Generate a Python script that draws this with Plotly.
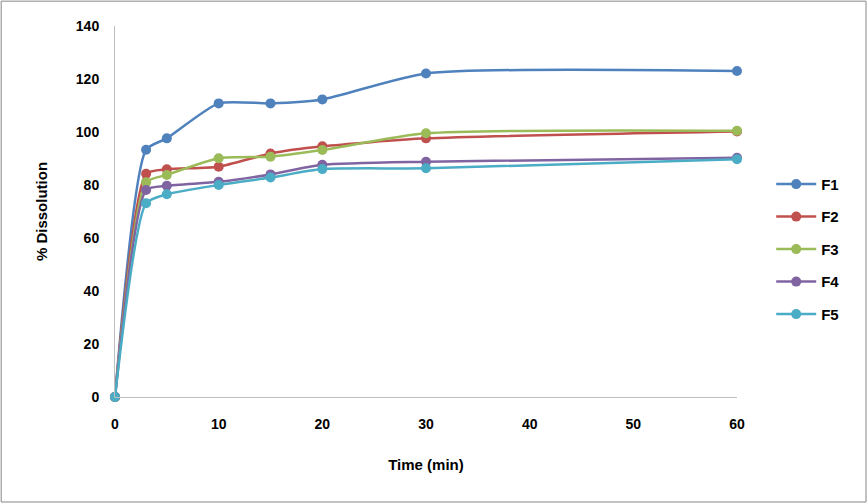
import plotly.graph_objects as go

time = [0, 3, 5, 10, 15, 20, 30, 60]
F1 = [0, 93.3, 97.6, 110.8, 110.8, 112.3, 122.1, 123.0]
F2 = [0, 84.2, 85.9, 86.9, 91.9, 94.6, 97.6, 100.2]
F3 = [0, 81.0, 83.8, 90.1, 90.7, 93.2, 99.5, 100.5]
F4 = [0, 78.1, 79.7, 81.2, 84.0, 87.6, 88.8, 90.3]
F5 = [0, 73.1, 76.5, 80.0, 82.8, 86.0, 86.3, 89.7]
series = {"F1": F1, "F2": F2, "F3": F3, "F4": F4, "F5": F5}
colors = {"F1": "#4F81BD", "F2": "#C0504D", "F3": "#9BBB59", "F4": "#8064A2", "F5": "#4BACC6"}
y_ticks = [0, 20, 40, 60, 80, 100, 120, 140]
x_ticks = [0, 10, 20, 30, 40, 50, 60]

FONT = "Liberation Sans, Arial, sans-serif"

fig = go.Figure()
for name, vals in series.items():
    fig.add_trace(go.Scatter(
        x=time, y=vals, name=name, mode="lines+markers",
        line=dict(color=colors[name], width=2.5, shape="spline", smoothing=0.6),
        marker=dict(color=colors[name], size=10),
        cliponaxis=False, legendgroup=name,
    ))

fig.update_layout(
    width=868, height=504,
    margin=dict(l=115, r=131, t=26, b=107),
    paper_bgcolor="white", plot_bgcolor="white",
    font=dict(family=FONT, size=14, color="black", weight="bold"),
    showlegend=True,
    legend=dict(x=1.055, y=0.398, xanchor="left", yanchor="middle",
                font=dict(family=FONT, size=15, color="black", weight="bold"),
                tracegroupgap=10, itemwidth=40),
    xaxis=dict(range=[0, 60], tickvals=x_ticks, showgrid=False, zeroline=False,
               showline=True, linecolor="#BFBFBF", linewidth=1, ticks="",
               ticklabelstandoff=14,
               tickfont=dict(family=FONT, size=14, color="black", weight="bold"),
               title=dict(text="Time (min)", standoff=28,
                          font=dict(family=FONT, size=15, color="black", weight="bold"))),
    yaxis=dict(range=[0, 140], tickvals=y_ticks, showgrid=False, zeroline=False,
               showline=True, linecolor="#BFBFBF", linewidth=1, ticks="",
               ticklabelstandoff=12,
               tickfont=dict(family=FONT, size=14, color="black", weight="bold"),
               title=dict(text="% Dissolution", standoff=24,
                          font=dict(family=FONT, size=15, color="black", weight="bold"))),
    shapes=[dict(type="rect", xref="paper", yref="paper",
                 x0=-0.183, x1=1.2074, y0=-0.283, y1=1.067,
                 line=dict(color="#868686", width=1), fillcolor="rgba(0,0,0,0)")],
)

fig.write_html("out.html", config={"displayModeBar": False},
               post_script="document.body.style.margin='0';document.body.style.padding='0';")
